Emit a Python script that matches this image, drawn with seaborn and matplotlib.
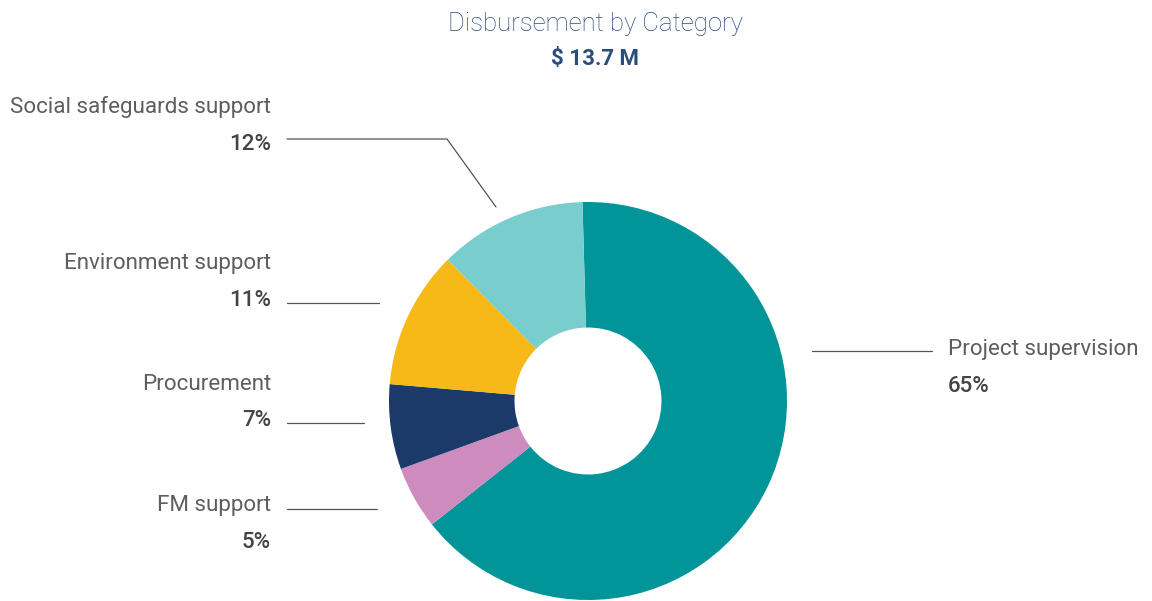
import matplotlib
matplotlib.use("Agg")
import matplotlib.pyplot as plt
import seaborn as sns

# ---- data ----
categories = ["Project supervision", "FM support", "Procurement",
              "Environment support", "Social safeguards support"]
shares = [64.8, 5.1, 6.9, 11.2, 12.0]
pct_labels = ["65%", "5%", "7%", "11%", "12%"]
colors = ["#019599", "#CE8BBE", "#1C3A69", "#F7B918", "#7ACDCD"]
title = "Disbursement by Category"
subtitle = "$ 13.7 M"

sns.set_theme(style="white")
plt.rcParams["font.family"] = ["Roboto", "DejaVu Sans"]

W, H = 1152, 601
fig = plt.figure(figsize=(W / 100, H / 100), dpi=100)
ax = fig.add_axes([0, 0, 1, 1])

def py(y):  # pixel-from-top -> data y
    return H - y

cx, cy, R, r_in = 588, py(401), 199, 73.5
ax.pie(shares, colors=colors, startangle=91.6, counterclock=False,
       center=(cx, cy), radius=R, frame=True,
       wedgeprops=dict(width=R - r_in, linewidth=0))
ax.set_xlim(0, W)
ax.set_ylim(0, H)
ax.set_aspect("equal")
ax.axis("off")

title_col = "#2B4C7E"
ax.text(595, py(24), title, ha="center", va="center", fontsize=18.5,
        color=title_col, fontweight="light")
ax.text(595, py(59), subtitle, ha="center", va="center", fontsize=16,
        color=title_col, fontweight="bold")

lab_col = "#5e5e5e"
pct_col = "#444444"
line_col = "#555555"
fs = 16.1

# left side labels: (category index, label y, pct y)
left = [(4, 107, 145), (3, 263, 300), (2, 384, 421), (1, 506, 542)]
for i, ly, pyy in left:
    ax.text(271, py(ly), categories[i], ha="right", va="center",
            fontsize=fs, color=lab_col, fontweight="normal")
    ax.text(271, py(pyy), pct_labels[i], ha="right", va="center",
            fontsize=fs, color=pct_col, fontweight="medium")

# right side label
ax.text(948, py(350), categories[0], ha="left", va="center",
        fontsize=fs, color=lab_col, fontweight="normal")
ax.text(948, py(386), pct_labels[0], ha="left", va="center",
        fontsize=fs, color=pct_col, fontweight="medium")

# leader lines (layout)
lw = 0.9
ax.plot([287, 447, 496], [py(139), py(139), py(207)], color=line_col, lw=lw)
ax.plot([287, 379], [py(303), py(303)], color=line_col, lw=lw)
ax.plot([287, 364], [py(423), py(423)], color=line_col, lw=lw)
ax.plot([287, 377], [py(509), py(509)], color=line_col, lw=lw)
ax.plot([812, 932], [py(351), py(351)], color=line_col, lw=lw)

fig.savefig("out.png", dpi=100, facecolor="white")
